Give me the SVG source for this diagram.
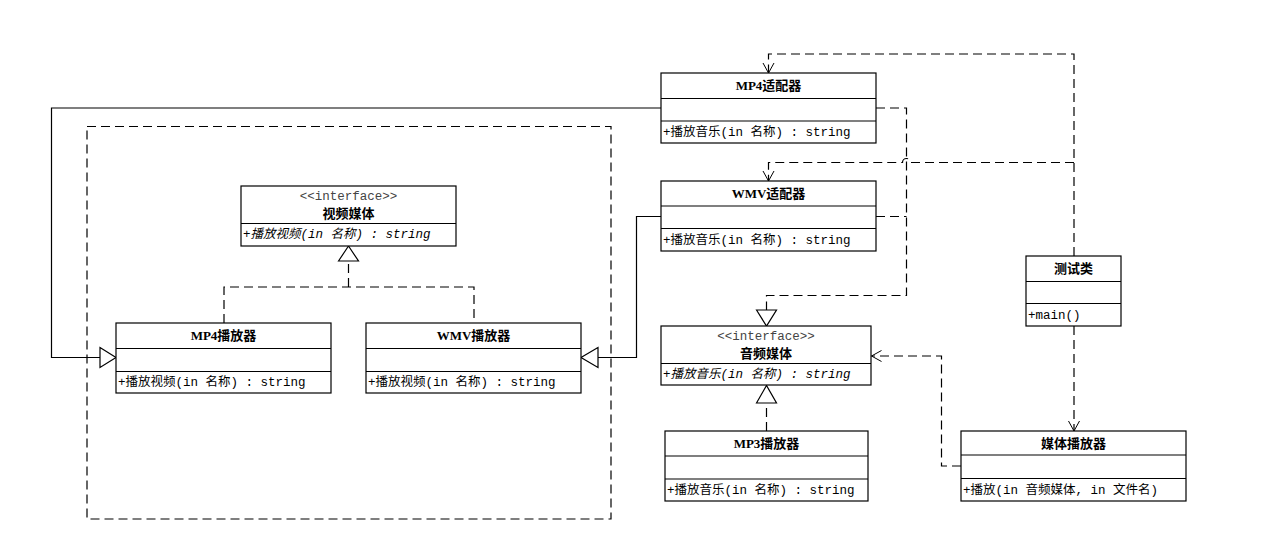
<svg xmlns="http://www.w3.org/2000/svg" width="1276" height="556" viewBox="0 0 1276 556">
<style>
.box{fill:#fff;stroke:#000;stroke-width:1.2}
.ln{fill:none;stroke:#000;stroke-width:1.2}
.ds{fill:none;stroke:#000;stroke-width:1.2;stroke-dasharray:9,5}
.tri{fill:#fff;stroke:#000;stroke-width:1.2}
.arr{fill:none;stroke:#000;stroke-width:1}
.t{font-family:"Liberation Serif","Noto Sans CJK SC",serif;font-size:13px;font-weight:bold;text-anchor:middle;fill:#000}
.m{font-family:"Liberation Mono","Noto Sans CJK SC",monospace;font-size:12.5px;fill:#000}
.i{font-style:italic}
.st{font-family:"Liberation Mono","Noto Sans CJK SC",monospace;font-size:12.5px;text-anchor:middle;fill:#444}
</style>
<rect width="1276" height="556" fill="#fff"/>
<rect x="87" y="126.5" width="524" height="392.5" class="ds"/>

<g id="connectors">
<!-- MP4适配器 -> MP4播放器 generalization -->
<polyline class="ln" points="661,108 51.5,108 51.5,357.5 100,357.5"/>
<polygon class="tri" points="100,347.5 116,357.5 100,367.5"/>
<!-- WMV适配器 -> WMV播放器 generalization -->
<polyline class="ln" points="661,216.5 636.5,216.5 636.5,357.5 598,357.5"/>
<polygon class="tri" points="598,347.5 581,357.5 598,367.5"/>
<!-- realization to 视频媒体 -->
<polyline class="ds" points="224,323 224,287 474,287 474,323"/>
<line class="ds" x1="348.5" y1="287" x2="348.5" y2="261"/>
<polygon class="tri" points="338.5,261 348.5,246 358.5,261"/>
<!-- adapters realize 音频媒体 -->
<polyline class="ds" points="876,108 906.5,108 906.5,295.5 766.5,295.5 766.5,310"/>
<line class="ds" x1="876" y1="216.5" x2="906.5" y2="216.5"/>
<polygon class="tri" points="756.5,310 766.5,326 776.5,310"/>
<!-- MP3播放器 realize 音频媒体 -->
<line class="ds" x1="766.5" y1="431" x2="766.5" y2="403"/>
<polygon class="tri" points="756.5,403 766.5,385.5 776.5,403"/>
<!-- 测试类 -> MP4适配器 -->
<polyline class="ds" points="1074,256 1074,54 768.5,54 768.5,73"/>
<polyline class="arr" points="763,63 768.5,73 774,63"/>
<!-- 测试类 -> WMV适配器 -->
<path class="ds" d="M1074,162.5 H910.5 A4,4 0 0 0 902.5,162.5 H768.5 V181"/>
<polyline class="arr" points="763,171 768.5,181 774,171"/>
<!-- 测试类 -> 媒体播放器 -->
<line class="ds" x1="1074" y1="326" x2="1074" y2="431"/>
<polyline class="arr" points="1068.5,421 1074,431 1079.5,421"/>
<!-- 媒体播放器 -> 音频媒体 -->
<polyline class="ds" points="961,466 941.5,466 941.5,356 871.5,356"/>
<polyline class="arr" points="881.5,350.5 871.5,356 881.5,361.5"/>
</g>

<g id="mp4adapter">
<rect class="box" x="661" y="73" width="215" height="70"/>
<line class="ln" x1="661" y1="98.5" x2="876" y2="98.5"/>
<line class="ln" x1="661" y1="121" x2="876" y2="121"/>
<text class="t" x="768.5" y="90">MP4适配器</text>
<text class="m" x="663" y="136">+播放音乐(in 名称) : string</text>
</g>

<g id="wmvadapter">
<rect class="box" x="661" y="181" width="215" height="70"/>
<line class="ln" x1="661" y1="206" x2="876" y2="206"/>
<line class="ln" x1="661" y1="228.5" x2="876" y2="228.5"/>
<text class="t" x="768.5" y="198">WMV适配器</text>
<text class="m" x="663" y="244">+播放音乐(in 名称) : string</text>
</g>

<g id="videomedia">
<rect class="box" x="241" y="186" width="215" height="60"/>
<line class="ln" x1="241" y1="223.5" x2="456" y2="223.5"/>
<text class="st" x="348.5" y="200">&lt;&lt;interface&gt;&gt;</text>
<text class="t" x="348.5" y="218">视频媒体</text>
<text class="m i" x="243" y="238">+播放视频(in 名称) : string</text>
</g>

<g id="mp4player">
<rect class="box" x="116" y="323" width="215" height="70"/>
<line class="ln" x1="116" y1="348.5" x2="331" y2="348.5"/>
<line class="ln" x1="116" y1="371.5" x2="331" y2="371.5"/>
<text class="t" x="223.5" y="340">MP4播放器</text>
<text class="m" x="118" y="386">+播放视频(in 名称) : string</text>
</g>

<g id="wmvplayer">
<rect class="box" x="366" y="323" width="215" height="70"/>
<line class="ln" x1="366" y1="348.5" x2="581" y2="348.5"/>
<line class="ln" x1="366" y1="371.5" x2="581" y2="371.5"/>
<text class="t" x="473.5" y="340">WMV播放器</text>
<text class="m" x="368" y="386">+播放视频(in 名称) : string</text>
</g>

<g id="audiomedia">
<rect class="box" x="661" y="326" width="210" height="59"/>
<line class="ln" x1="661" y1="363.5" x2="871" y2="363.5"/>
<text class="st" x="766" y="340">&lt;&lt;interface&gt;&gt;</text>
<text class="t" x="766" y="358">音频媒体</text>
<text class="m i" x="663" y="378">+播放音乐(in 名称) : string</text>
</g>

<g id="mp3player">
<rect class="box" x="665" y="431" width="203" height="70"/>
<line class="ln" x1="665" y1="456" x2="868" y2="456"/>
<line class="ln" x1="665" y1="479" x2="868" y2="479"/>
<text class="t" x="766.5" y="448">MP3播放器</text>
<text class="m" x="667" y="494">+播放音乐(in 名称) : string</text>
</g>

<g id="testclass">
<rect class="box" x="1026" y="256" width="95" height="70"/>
<line class="ln" x1="1026" y1="281.5" x2="1121" y2="281.5"/>
<line class="ln" x1="1026" y1="303.5" x2="1121" y2="303.5"/>
<text class="t" x="1073.5" y="273">测试类</text>
<text class="m" x="1028" y="319">+main()</text>
</g>

<g id="mediaplayer">
<rect class="box" x="961" y="431" width="225" height="70"/>
<line class="ln" x1="961" y1="455" x2="1186" y2="455"/>
<line class="ln" x1="961" y1="478.5" x2="1186" y2="478.5"/>
<text class="t" x="1073.5" y="448">媒体播放器</text>
<text class="m" x="963" y="494">+播放(in 音频媒体, in 文件名)</text>
</g>
</svg>
